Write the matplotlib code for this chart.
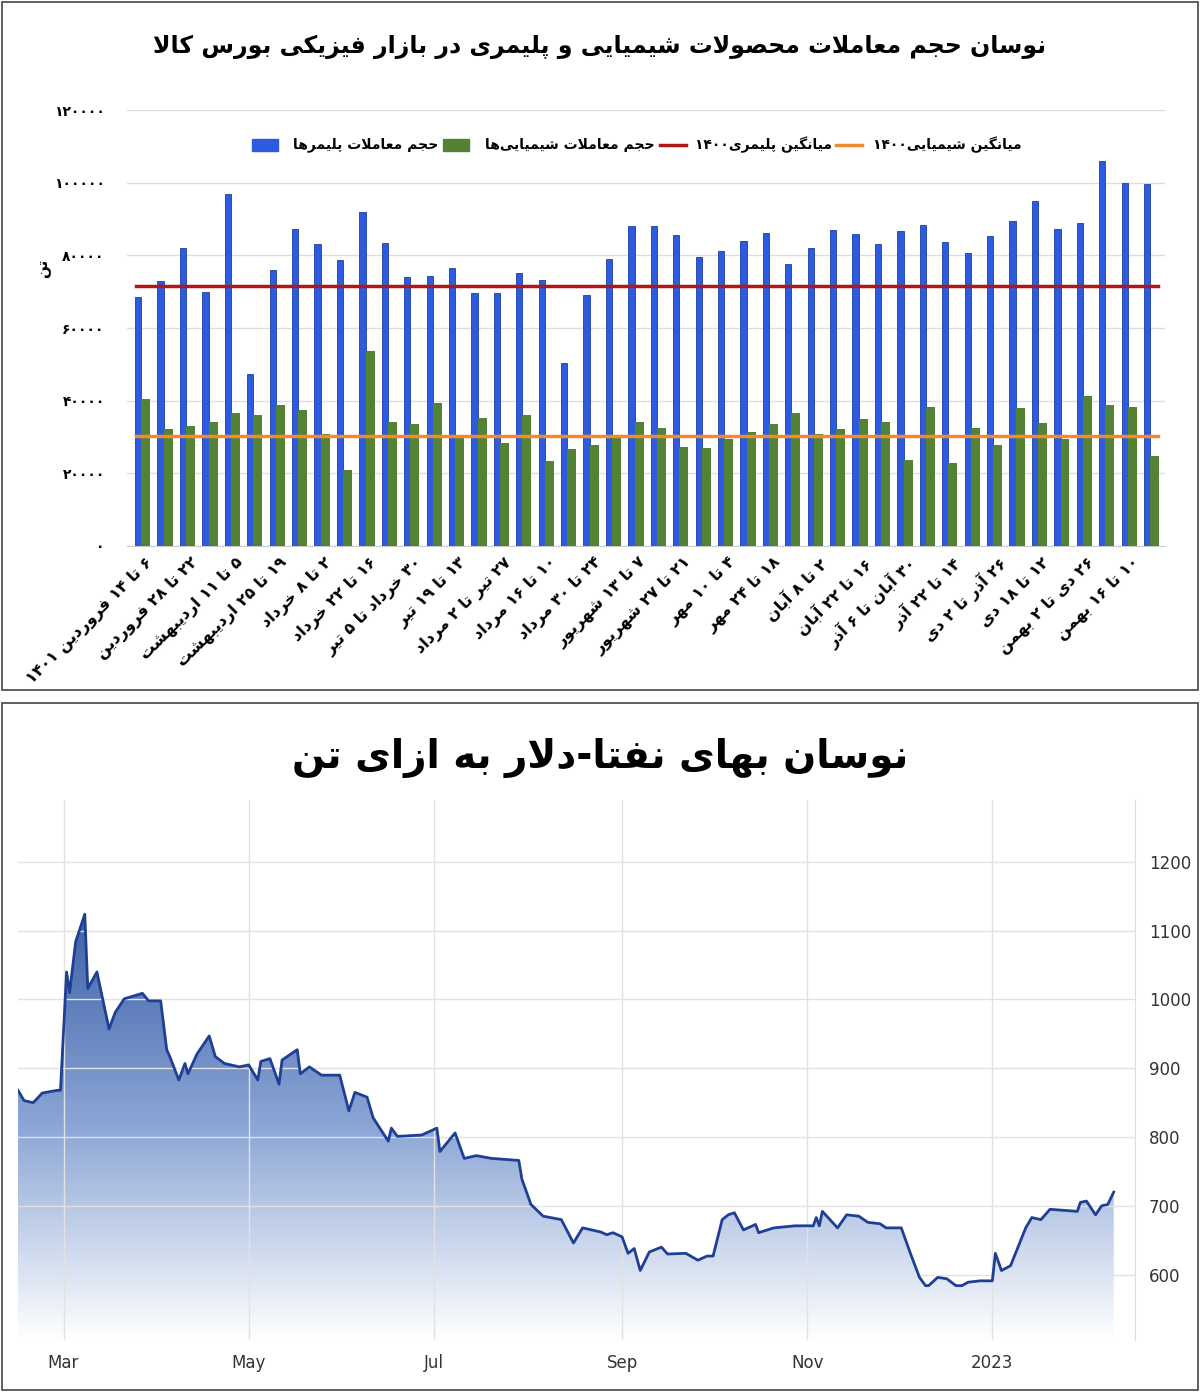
import matplotlib.pyplot as plt
import numpy as np
from matplotlib.patches import Rectangle

# ---------- minimal Persian shaping (matplotlib has no complex text layout) ----------
FORMS = {
    'ا': (0xFE8D, 0xFE8E), 'آ': (0xFE81, 0xFE82), 'د': (0xFEA9, 0xFEAA), 'ذ': (0xFEAB, 0xFEAC),
    'ر': (0xFEAD, 0xFEAE), 'ز': (0xFEAF, 0xFEB0), 'ژ': (0xFB8A, 0xFB8B), 'و': (0xFEED, 0xFEEE),
    'ب': (0xFE8F, 0xFE90, 0xFE91, 0xFE92), 'پ': (0xFB56, 0xFB57, 0xFB58, 0xFB59),
    'ت': (0xFE95, 0xFE96, 0xFE97, 0xFE98), 'ث': (0xFE99, 0xFE9A, 0xFE9B, 0xFE9C),
    'ج': (0xFE9D, 0xFE9E, 0xFE9F, 0xFEA0), 'چ': (0xFB7A, 0xFB7B, 0xFB7C, 0xFB7D),
    'ح': (0xFEA1, 0xFEA2, 0xFEA3, 0xFEA4), 'خ': (0xFEA5, 0xFEA6, 0xFEA7, 0xFEA8),
    'س': (0xFEB1, 0xFEB2, 0xFEB3, 0xFEB4), 'ش': (0xFEB5, 0xFEB6, 0xFEB7, 0xFEB8),
    'ص': (0xFEB9, 0xFEBA, 0xFEBB, 0xFEBC), 'ض': (0xFEBD, 0xFEBE, 0xFEBF, 0xFEC0),
    'ط': (0xFEC1, 0xFEC2, 0xFEC3, 0xFEC4), 'ظ': (0xFEC5, 0xFEC6, 0xFEC7, 0xFEC8),
    'ع': (0xFEC9, 0xFECA, 0xFECB, 0xFECC), 'غ': (0xFECD, 0xFECE, 0xFECF, 0xFED0),
    'ف': (0xFED1, 0xFED2, 0xFED3, 0xFED4), 'ق': (0xFED5, 0xFED6, 0xFED7, 0xFED8),
    'ک': (0xFB8E, 0xFB8F, 0xFB90, 0xFB91), 'گ': (0xFB92, 0xFB93, 0xFB94, 0xFB95),
    'ل': (0xFEDD, 0xFEDE, 0xFEDF, 0xFEE0), 'م': (0xFEE1, 0xFEE2, 0xFEE3, 0xFEE4),
    'ن': (0xFEE5, 0xFEE6, 0xFEE7, 0xFEE8), 'ه': (0xFEE9, 0xFEEA, 0xFEEB, 0xFEEC),
    'ی': (0xFBFC, 0xFBFD, 0xFBFE, 0xFBFF),
}


def fa(text):
    # lam-alef ligature as a right-joining unit
    text = text.replace('لا', '\uE000')
    chars = list(text)
    out = []
    for i, c in enumerate(chars):
        if c == '\uE000':
            prev = chars[i - 1] if i > 0 else ''
            joins = prev in FORMS and len(FORMS[prev]) == 4
            out.append(chr(0xFEFC if joins else 0xFEFB))
            continue
        if c not in FORMS:
            if c != '\u200c':
                out.append(c)
            continue
        f = FORMS[c]
        prev = chars[i - 1] if i > 0 else ''
        nxt = chars[i + 1] if i + 1 < len(chars) else ''
        jp = prev in FORMS and len(FORMS[prev]) == 4
        jn = len(f) == 4 and (nxt in FORMS or nxt == '\uE000')
        if jp and jn:
            out.append(chr(f[3]))
        elif jp:
            out.append(chr(f[1]))
        elif jn:
            out.append(chr(f[2]))
        else:
            out.append(chr(f[0]))
    # visual order: reverse, keep digit runs intact
    tokens = []
    for c in out:
        if c.isdigit() and tokens and tokens[-1][-1].isdigit():
            tokens[-1] += c
        else:
            tokens.append(c)
    return ''.join(reversed(tokens))


def pd(n):
    return str(n).translate(str.maketrans('0123456789', '۰۱۲۳۴۵۶۷۸۹'))


# ---------- data: top chart ----------
week_labels = [
    "۶ تا ۱۴ فروردین ۱۴۰۱", "۲۲ تا ۲۸ فروردین", "۵ تا ۱۱ اردیبهشت", "۱۹ تا ۲۵ اردیبهشت",
    "۲ تا ۸ خرداد", "۱۶ تا ۲۲ خرداد", "۳۰ خرداد تا ۵ تیر", "۱۳ تا ۱۹ تیر",
    "۲۷ تیر تا ۲ مرداد", "۱۰ تا ۱۶ مرداد", "۲۴ تا ۳۰ مرداد", "۷ تا ۱۳ شهریور",
    "۲۱ تا ۲۷ شهریور", "۴ تا ۱۰ مهر", "۱۸ تا ۲۴ مهر", "۲ تا ۸ آبان",
    "۱۶ تا ۲۲ آبان", "۳۰ آبان تا ۶ آذر", "۱۴ تا ۲۲ آذر", "۲۶ آذر تا ۲ دی",
    "۱۲ تا ۱۸ دی", "۲۶ دی تا ۲ بهمن", "۱۰ تا ۱۶ بهمن",
]
polymer = [68600, 73000, 82000, 70000, 97000, 47400, 76000, 87300, 83200, 78800,
           92000, 83500, 74000, 74400, 76600, 69700, 69700, 75200, 73300, 50400,
           69100, 79000, 88000, 88000, 85700, 79600, 81300, 84000, 86200, 77700,
           82000, 87000, 86000, 83000, 86800, 88400, 83700, 80700, 85400, 89500,
           95000, 87300, 89000, 106000, 100000, 99700]
chemical = [40400, 32100, 33000, 34000, 36700, 36100, 38800, 37400, 30900, 20800,
            53700, 34000, 33700, 39400, 30100, 35100, 28400, 36000, 23400, 26600,
            27800, 30300, 34200, 32600, 27300, 27000, 29400, 31500, 33700, 36700,
            30700, 32300, 34900, 34200, 23700, 38300, 22900, 32600, 27900, 38000,
            33800, 29400, 41300, 38800, 38300, 24800]
avg_polymer_1400 = 71500
avg_chemical_1400 = 30200
y_ticks_top = [0, 20000, 40000, 60000, 80000, 100000, 120000]

# ---------- data: bottom chart (days since 1 Mar 2022, USD per ton) ----------
naphtha_day = [-15, -13, -10, -7, -2, -1, 1, 2, 4, 7, 8, 11, 15, 17, 20, 26, 28, 32, 34, 35,
               38, 40, 41, 44, 48, 50, 53, 58, 61, 64, 65, 68, 71, 72, 77, 78, 81, 85, 91, 94,
               96, 100, 102, 107, 108, 110, 118, 123, 124, 129, 132, 136, 141, 150, 151, 154, 158,
               164, 168, 171, 177, 179, 181, 184, 186, 188, 190, 193, 197, 199, 205, 209, 212, 214,
               217, 219, 221, 224, 228, 229, 234, 241, 247, 248, 249, 250, 255, 258, 262, 265, 269,
               271, 276, 279, 282, 284, 285, 288, 291, 294, 296, 298, 302, 306, 307, 309, 312, 317,
               319, 322, 325, 334, 335, 337, 340, 342, 344, 346]
naphtha_price = [868, 853, 850, 864, 868, 868, 1040, 1010, 1084, 1124, 1016, 1040, 957, 981, 1001,
                 1009, 998, 998, 927, 917, 883, 907, 892, 921, 947, 917, 907, 902, 905, 883, 910,
                 914, 877, 912, 927, 892, 902, 890, 890, 838, 865, 858, 828, 794, 813, 801, 803,
                 813, 779, 806, 769, 773, 769, 766, 739, 702, 685,
                 680, 646, 668, 662, 658, 661, 655, 631, 638, 606, 633, 640, 630, 631, 621, 627,
                 627, 680, 687, 690, 665, 673, 661, 668, 671, 671, 683, 671, 692, 668, 687, 685,
                 676, 674, 668, 668, 631, 596, 584, 584, 596, 594, 584, 584, 589, 591, 591, 631,
                 606, 613, 668, 683, 680, 695, 692, 705, 707, 687, 700, 702, 720]
month_ticks = [0, 61, 122, 184, 245, 306]
month_labels = ["Mar", "May", "Jul", "Sep", "Nov", "2023"]
price_ticks = [600, 700, 800, 900, 1000, 1100, 1200]

plt.rcParams['font.family'] = ['DejaVu Sans']
fig = plt.figure(figsize=(12, 13.93), dpi=100)
W, H = 1200, 1393


def box(l, t, r, b):
    return [l / W, 1 - b / H, (r - l) / W, (b - t) / H]


# panel frames
for t, b in [(2, 690), (703, 1390)]:
    fig.patches.append(Rectangle((2 / W, 1 - b / H), 1196 / W, (b - t) / H, transform=fig.transFigure,
                                 fill=False, edgecolor='#444444', linewidth=1.2))

# ---------- top chart ----------
ax = fig.add_axes(box(127, 110, 1165, 546))
x = np.arange(len(polymer))
ax.bar(x - 0.2, polymer, width=0.28, color='#2D5BE0', edgecolor='#1C3FA8', linewidth=0.6, zorder=3)
ax.bar(x + 0.14, chemical, width=0.4, color='#548235', zorder=3)
ax.plot([-0.3, len(x) - 0.7], [avg_polymer_1400] * 2, color='#B01818', linewidth=2.5, zorder=4)
ax.plot([-0.3, len(x) - 0.7], [avg_chemical_1400] * 2, color='#F08A30', linewidth=2.5, zorder=4)
ax.set_xlim(-0.7, len(x) - 0.4)
ax.set_ylim(0, 120000)
ax.set_yticks(y_ticks_top)
ax.set_yticklabels([pd(v) for v in y_ticks_top], fontsize=10, fontweight='bold')
ax.tick_params(axis='y', length=0, pad=16)
ax.grid(axis='y', color='#DDDDDD', linewidth=1, zorder=0)
for s in ['top', 'right', 'left']:
    ax.spines[s].set_visible(False)
ax.spines['bottom'].set_color('#CCCCCC')
ax.set_xticks(x[::2] + 0.1)
ax.set_xticklabels([fa(s) for s in week_labels], rotation=45, ha='right', rotation_mode='anchor',
                   fontsize=11.5, fontweight='bold')
ax.tick_params(axis='x', length=0, pad=6)
fig.text(36 / W, 1 - 268 / H, fa('تن'), fontsize=11, fontweight='bold', rotation=90, va='center')
fig.text(0.5, 1 - 47 / H, fa('نوسان حجم معاملات محصولات شیمیایی و پلیمری در بازار فیزیکی بورس کالا'),
         ha='center', va='center', fontsize=17, fontweight='bold')

# legend (right to left): label, colour, kind, text right edge, handle left edge
legend_items = [
    ('حجم معاملات پلیمرها', '#2D5BE0', 'bar', 438, 252),
    ('حجم معاملات شیمیایی‌ها', '#548235', 'bar', 655, 443),
    ('میانگین پلیمری۱۴۰۰', '#B01818', 'line', 832, 660),
    ('میانگین شیمیایی۱۴۰۰', '#F08A30', 'line', 1022, 836),
]
for label, col, kind, xr, hx in legend_items:
    fig.text(xr / W, 1 - 145 / H, fa(label), ha='right', va='center', fontsize=10, fontweight='bold')
    if kind == 'bar':
        fig.patches.append(Rectangle((hx / W, 1 - 151 / H), 26 / W, 12 / H, transform=fig.transFigure,
                                     color=col))
    else:
        fig.lines.append(plt.Line2D([hx / W, (hx + 26) / W], [1 - 145 / H] * 2, transform=fig.transFigure,
                                    color=col, linewidth=2.5))

# ---------- bottom chart ----------
bx = fig.add_axes(box(18, 800, 1135, 1340))
days = np.array(naphtha_day)
price = np.array(naphtha_price)
y_lo, y_hi = 505, 1290
bx.set_xlim(-15, 353)
bx.set_ylim(y_lo, y_hi)
grad = np.linspace(0, 1, 256).reshape(-1, 1)
img = bx.imshow(grad, extent=[-15, 353, y_lo, 1124], origin='lower', aspect='auto',
                cmap=plt.matplotlib.colors.LinearSegmentedColormap.from_list('g', ['#FFFFFF', '#8CA6D6', '#3E62A8']),
                zorder=1)
poly = bx.fill_between(days, price, y_lo, color='none')
clip = poly.get_paths()[0]
img.set_clip_path(clip, transform=bx.transData)
bx.plot(days, price, color='#1E3F94', linewidth=2, zorder=3)
bx.set_xticks(month_ticks)
bx.set_xticklabels(month_labels, fontsize=12, color='#333333')
bx.yaxis.tick_right()
bx.set_yticks(price_ticks)
bx.set_yticklabels([str(v) for v in price_ticks], fontsize=12, color='#333333')
bx.tick_params(length=0, pad=10)
bx.grid(color='#E2E2E2', linewidth=1, zorder=0)
for s in ['top', 'left', 'bottom']:
    bx.spines[s].set_visible(False)
bx.spines['right'].set_color('#DDDDDD')
fig.text(0.5, 1 - 758 / H, fa('نوسان بهای نفتا-دلار به ازای تن'), ha='center', va='center',
         fontsize=28, fontweight='bold')

fig.savefig('out.png', dpi=100)
